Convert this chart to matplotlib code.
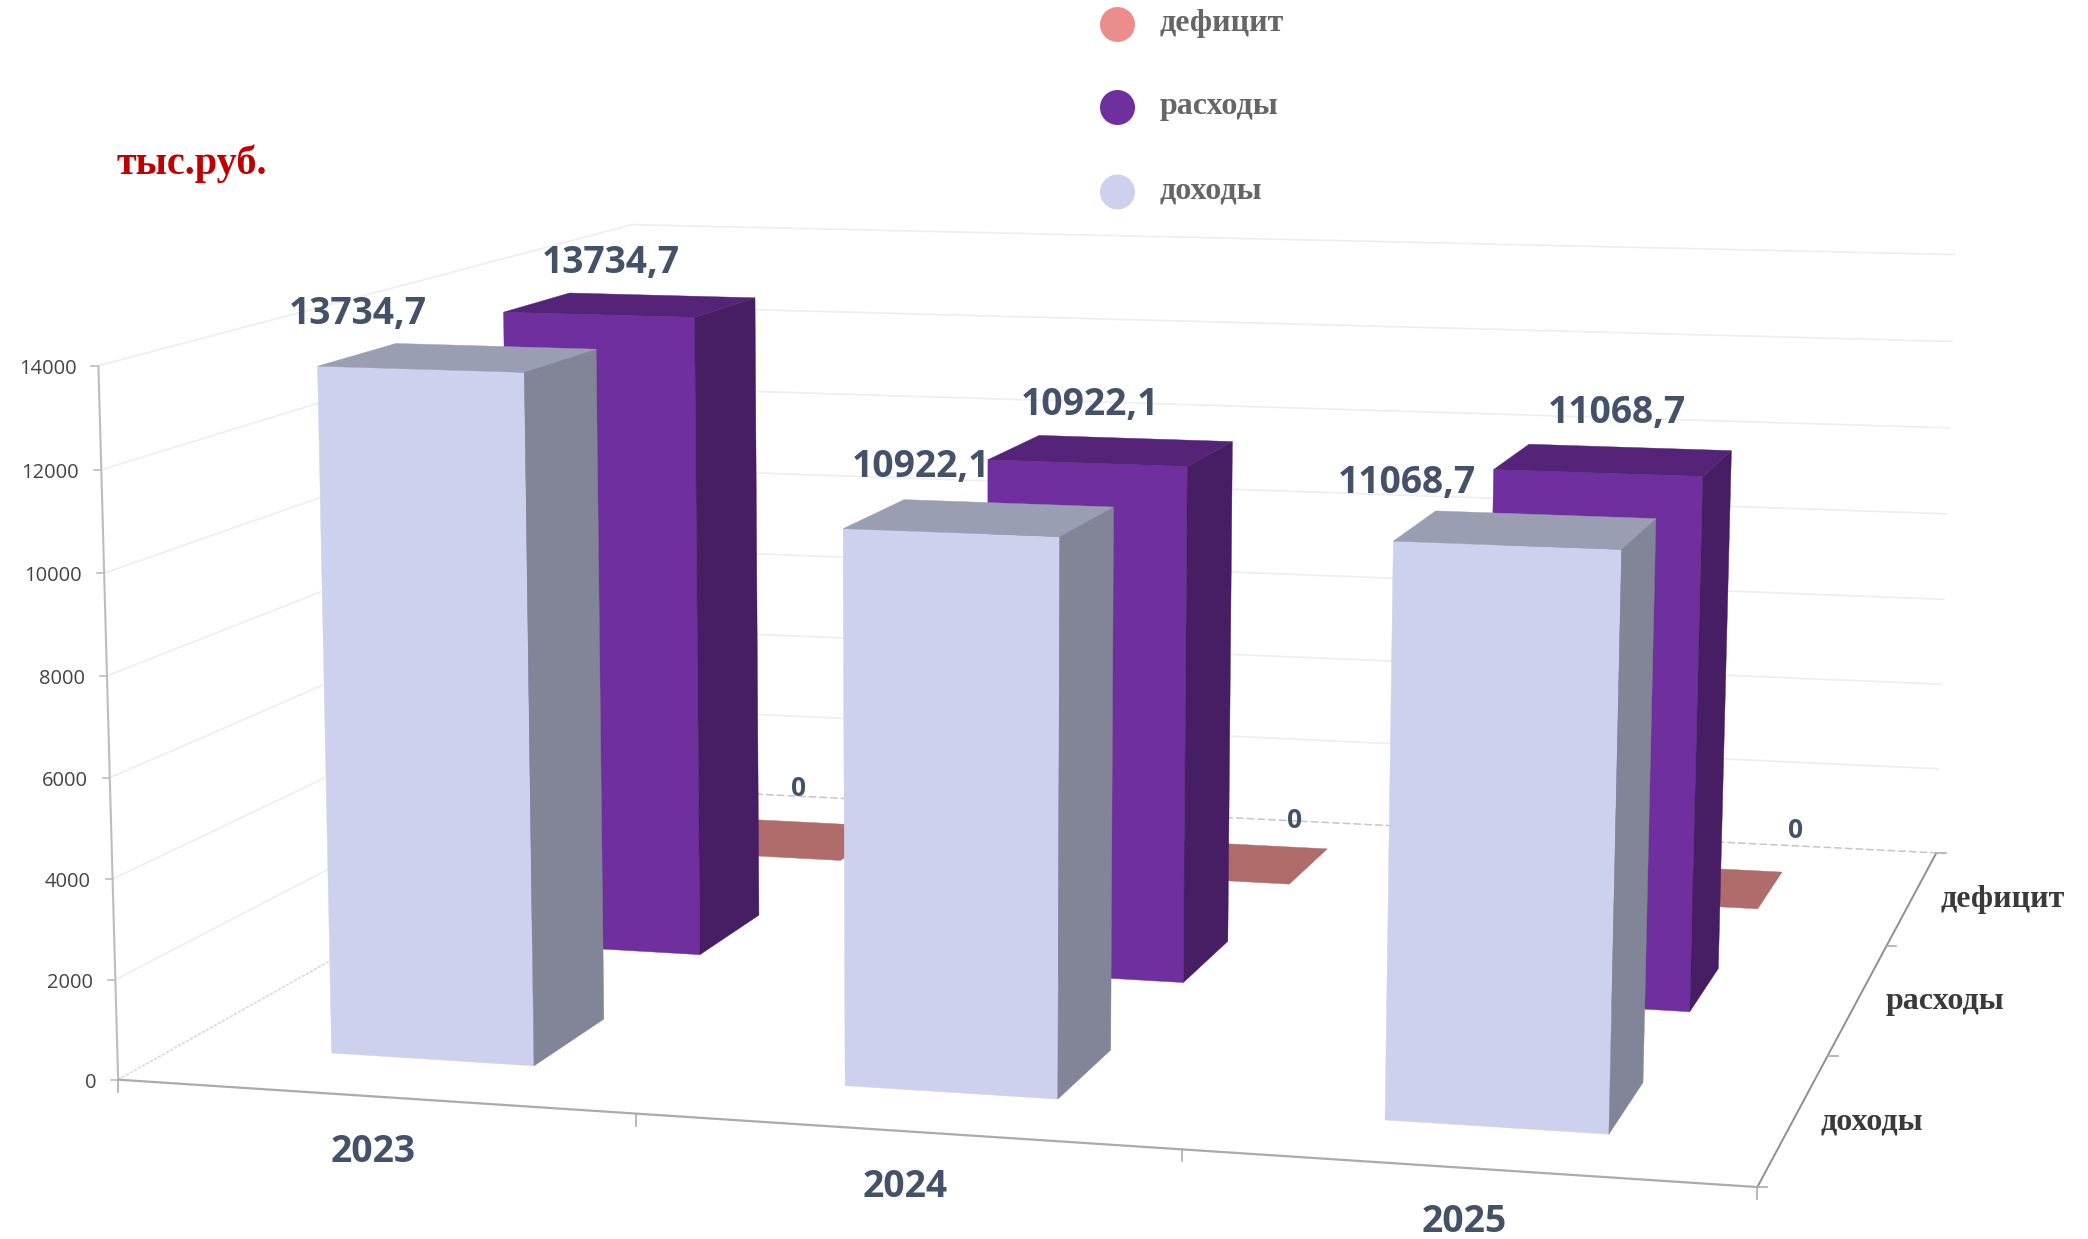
import numpy as np
import matplotlib
matplotlib.use("Agg")
import matplotlib.pyplot as plt

# Chart data
years = ["2023", "2024", "2025"]
series_names = ["доходы", "расходы", "дефицит"]
revenue = [13734.7, 10922.1, 11068.7]
expenses = [13734.7, 10922.1, 11068.7]
deficit = [0, 0, 0]
value_ticks = [0, 2000, 4000, 6000, 8000, 10000, 12000, 14000]

# Colours: front, side, top
revenue_colors = ["#CDD1ED", "#828597", "#9A9EB2"]
expenses_colors = ["#702F9E", "#471D63", "#552377"]
deficit_colors = ["#EB8E8B", "#8C5A58", "#B06C6A"]
label_color = "#435269"

# Camera: known chart coordinates and where they land on the picture
cam_xyz = [(0, 0, 0), (3, 0, 0), (3, 3, 0), (0, 3, 0),
           (0, 0, 14000), (0, 3, 14000), (0, 3, 14000), (0, 3, 14000), (3, 3, 14000),
           (1, 0, 0), (2, 0, 0), (3, 1, 0), (3, 2, 0),
           (0.3, 0.3, 13734.7), (0.7, 0.3, 13734.7), (0.7, 0.7, 13734.7),
           (0.3, 0.3, 0), (0.7, 0.3, 0), (0.7, 0.7, 0),
           (1.3, 0.3, 10922.1), (1.7, 0.3, 10922.1), (1.7, 0.7, 10922.1),
           (1.3, 0.3, 0), (1.7, 0.3, 0), (1.7, 0.7, 0),
           (2.3, 0.3, 11068.7), (2.7, 0.3, 11068.7), (2.7, 0.7, 11068.7), (2.3, 0.7, 11068.7),
           (2.3, 0.3, 0), (2.7, 0.3, 0),
           (0, 0, 2000), (0, 0, 4000), (0, 0, 6000), (0, 0, 8000), (0, 0, 10000), (0, 0, 12000),
           (3, 3, 2000), (3, 3, 4000), (3, 3, 6000), (3, 3, 8000), (3, 3, 10000), (3, 3, 12000),
           (1.7, 2.3, 0), (1.7, 2.7, 0), (2.7, 2.3, 0), (2.7, 2.7, 0),
           (0.7, 1.3, 0), (0.7, 1.7, 0), (1.7, 1.3, 0), (1.7, 1.7, 0), (2.7, 1.3, 0), (2.7, 1.7, 0),
           (0.3, 1.3, 13734.7), (0.7, 1.3, 13734.7), (0.7, 1.7, 13734.7),
           (1.3, 1.3, 10922.1), (1.7, 1.3, 10922.1), (1.7, 1.7, 10922.1),
           (2.3, 1.3, 11068.7), (2.7, 1.3, 11068.7), (2.7, 1.7, 11068.7), (2.3, 1.7, 11068.7)]
cam_px = [(117, 1080), (1754, 1187), (1937, 849.5), (638, 784),
          (97, 367), (633, 222), (633, 222), (633, 222), (1955, 254),
          (636, 1117), (1181, 1157), (1885.5, 943), (1826, 1055),
          (318, 367), (524.5, 374), (596, 350.7),
          (331.7, 1053), (534, 1066), (604.5, 1018.5),
          (843, 531), (1060, 540), (1113, 509),
          (844.6, 1086), (1057, 1099.6), (1110, 1050),
          (1391.7, 544), (1618, 552), (1653, 521), (1435, 513),
          (1385, 1123), (1607, 1134.7),
          (115, 979), (113, 879), (110, 777), (106, 677), (103, 573), (100, 471),
          (1940, 766), (1945, 683), (1947, 597), (1949, 512), (1950, 427), (1952, 341),
          (1291.5, 881.4), (1328.6, 846), (1758.8, 906.5), (1782.5, 869.4),
          (702.7, 953), (761, 915), (1184, 981), (1228.6, 940), (1689.5, 1011), (1718, 967),
          (505, 312), (698, 317), (757, 297),
          (989, 460), (1188, 467), (1233, 441),
          (1493, 470), (1701, 477), (1730, 452), (1528, 444)]


def fit_camera(xyz, px):
    rows = []
    for (x, y, z), (u, v) in zip(xyz, px):
        p = [x / 3, y / 3, z / 14000, 1]
        u, v = u / 1000, v / 1000
        rows.append(p + [0, 0, 0, 0] + [-u * c for c in p])
        rows.append([0, 0, 0, 0] + p + [-v * c for c in p])
    return np.linalg.svd(np.array(rows))[2][-1].reshape(3, 4)


cam = fit_camera(cam_xyz, cam_px)


def project(x, y, z):
    q = cam @ np.array([x / 3, y / 3, z / 14000, 1])
    return q[0] / q[2] * 1000, q[1] / q[2] * 1000


def line3d(a, b, **kw):
    pa, pb = project(*a), project(*b)
    ax.plot([pa[0], pb[0]], [pa[1], pb[1]], solid_capstyle="butt", **kw)


def face(points, color, z):
    xy = [project(*p) for p in points]
    ax.fill([p[0] for p in xy], [p[1] for p in xy], color=color, lw=0.3, zorder=z)


def bar(i, j, value, colors, z):
    x0, x1, y0, y1 = i + 0.3, i + 0.7, j + 0.3, j + 0.7
    if value > 0:
        face([(x0, y0, 0), (x1, y0, 0), (x1, y0, value), (x0, y0, value)], colors[0], z)
        face([(x1, y0, 0), (x1, y1, 0), (x1, y1, value), (x1, y0, value)], colors[1], z)
    face([(x0, y0, value), (x1, y0, value), (x1, y1, value), (x0, y1, value)], colors[2], z)


fig = plt.figure(figsize=(20.88, 12.39), dpi=100)
ax = fig.add_axes([0, 0, 1, 1])
ax.set_xlim(0, 2088)
ax.set_ylim(1239, 0)
ax.axis("off")

# Walls
for v in value_ticks[1:]:
    line3d((0, 0, v), (0, 3, v), color="#EEEEEE", lw=1.2, zorder=1)
    line3d((0, 3, v), (3, 3, v), color="#EEEEEE", lw=1.2, zorder=1)
line3d((0, 0, 0), (0, 3, 0), color="#D6D6D6", lw=1.1, ls=(0, (2, 1)), zorder=1)
line3d((0, 3, 0), (3, 3, 0), color="#C6C6C6", lw=1.1, ls=(0, (5, 2)), zorder=1)

# Axis lines
line3d((0, 0, 0), (0, 0, 14000), color="#BDBDBD", lw=1.5, zorder=2)
line3d((0, 0, 0), (3, 0, 0), color="#ABABAB", lw=1.6, zorder=2)
line3d((3, 0, 0), (3, 3, 0), color="#8F8F8F", lw=1.4, zorder=2)

for v in value_ticks:
    px, py = project(0, 0, v)
    ax.plot([px - 7, px], [py, py], color="#BDBDBD", lw=1.2, zorder=2)
    ax.text(px - 22, py + 3, str(v), ha="right", va="center", fontsize=14.5,
            family="Open Sans", color="#444444")
for i in range(4):
    px, py = project(i, 0, 0)
    ax.plot([px, px], [py, py + 12], color="#ABABAB", lw=1.2, zorder=2)
for j in range(4):
    px, py = project(3, j, 0)
    ax.plot([px, px + 10], [py, py], color="#ABABAB", lw=1.2, zorder=2)

# Bars, back row first
z = 3
for j, (values, colors) in reversed(list(enumerate([(revenue, revenue_colors),
                                                    (expenses, expenses_colors),
                                                    (deficit, deficit_colors)]))):
    for i, value in enumerate(values):
        bar(i, j, value, colors, z)
        z += 1

# Value labels
revenue_label_xy = [(358, 314), (921, 467), (1407, 483)]
expenses_label_xy = [(611, 263), (1090, 405), (1617, 413)]
deficit_label_xy = [(799, 788), (1295, 820), (1796, 830)]
for values, places in [(revenue, revenue_label_xy), (expenses, expenses_label_xy)]:
    for value, (tx, ty) in zip(values, places):
        ax.text(tx, ty, f"{value:.1f}".replace(".", ","), ha="center", va="center", fontsize=26.8,
                family="Open Sans", weight="bold", color=label_color, zorder=50)
for value, (tx, ty) in zip(deficit, deficit_label_xy):
    ax.text(tx, ty, str(value), ha="center", va="center", fontsize=19,
            family="Open Sans", weight="bold", color=label_color, zorder=50)

# Category and series labels
for name, (tx, ty) in zip(years, [(373, 1152), (905, 1187), (1464, 1222)]):
    ax.text(tx, ty, name, ha="center", va="center", fontsize=26.8,
            family="Open Sans", weight="bold", color=label_color)
for name, (tx, ty) in zip(series_names, [(1872, 1122), (1945, 1002), (2003, 900)]):
    ax.text(tx, ty, name, ha="center", va="center", fontsize=23,
            family="Liberation Serif", weight="bold", color="#3A3A3A")

# Legend
legend_y = [192, 107.5, 24.5]
for name, color, ly in zip(series_names, [revenue_colors[0], expenses_colors[0], deficit_colors[0]], legend_y):
    ax.add_patch(plt.Circle((1117.5, ly), 17.5, color=color, lw=0))
    ax.text(1160, ly - 1, name, ha="left", va="center", fontsize=23,
            family="Liberation Serif", weight="bold", color="#666666")

ax.text(117, 164, "тыс.руб.", ha="left", va="center", fontsize=29,
        family="Liberation Serif", weight="bold", color="#C00000")

fig.savefig("out.png", dpi=100)
